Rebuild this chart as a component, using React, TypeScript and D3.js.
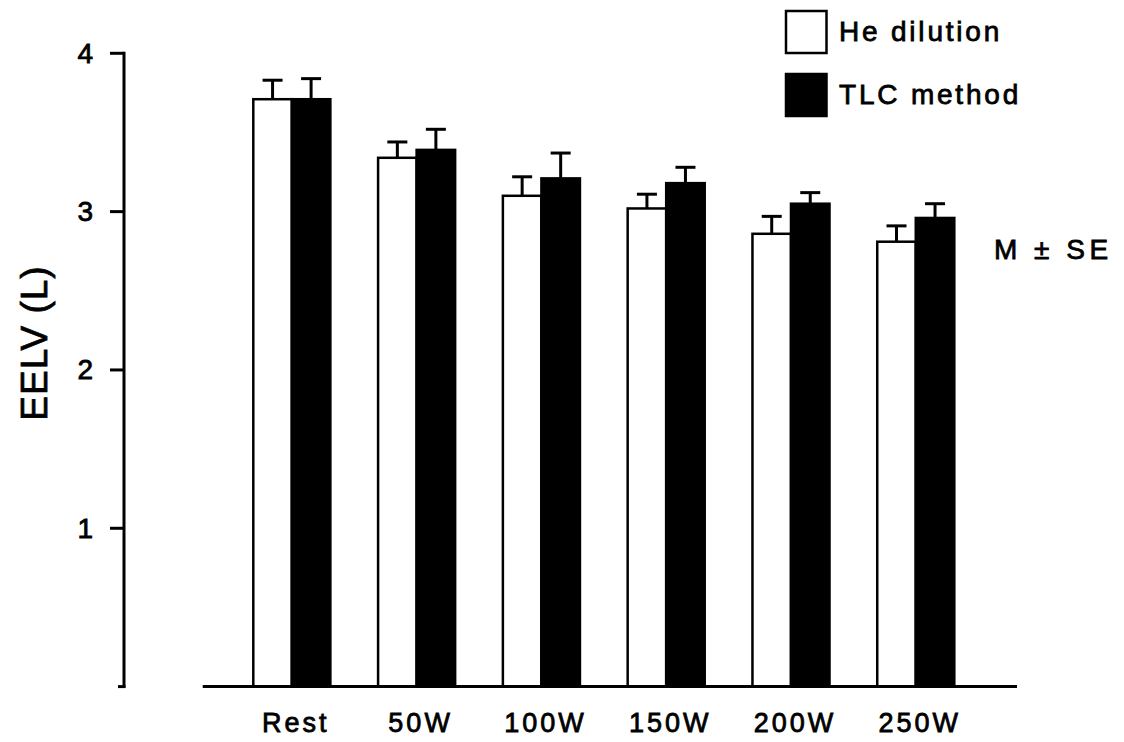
import React from "react";
import * as d3 from "d3";

// End-expiratory lung volume by exercise level, two measurement methods
const categories = ["Rest", "50W", "100W", "150W", "200W", "250W"];
const series = ["He dilution", "TLC method"];
const heDilution = [3.71, 3.34, 3.1, 3.02, 2.86, 2.81];
const heDilutionSE = [0.12, 0.1, 0.12, 0.09, 0.11, 0.1];
const tlcMethod = [3.71, 3.39, 3.21, 3.18, 3.05, 2.96];
const tlcMethodSE = [0.13, 0.13, 0.16, 0.1, 0.07, 0.09];
const yTicks = [1, 2, 3, 4];

const W = 1124;
const H = 742;
const FONT = "'Liberation Sans', Arial, Helvetica, sans-serif";

// slightly heavier glyphs for the printed look
const ink = { fill: "#000", stroke: "#000", strokeWidth: 0.8 };

export default function App() {
  const y = d3.scaleLinear().domain([0, 4]).range([686.6, 53.3]);
  const x = d3
    .scaleBand<string>()
    .domain(categories)
    .range([253.3, 954.3])
    .paddingInner(0.3825)
    .paddingOuter(0);
  const xs = d3.scaleBand<string>().domain(series).range([0, x.bandwidth()]).padding(0);

  const values = [heDilution, tlcMethod];
  const errors = [heDilutionSE, tlcMethodSE];
  const fills = ["#fff", "#000"];

  const axisX = 124;
  const baseY = y(0);

  return (
    <svg
      width={W}
      height={H}
      viewBox={`0 0 ${W} ${H}`}
      style={{ position: "absolute", left: 0, top: 0, background: "#fff", display: "block" }}
      fontFamily={FONT}
    >
      <rect x={0} y={0} width={W} height={H} fill="#fff" />

      {/* y axis */}
      <line x1={axisX} x2={axisX} y1={y(4) - 1.5} y2={baseY + 1} stroke="#000" strokeWidth={3} />
      {yTicks.map((t) => (
        <g key={t}>
          <line x1={axisX - 14} x2={axisX} y1={y(t)} y2={y(t)} stroke="#000" strokeWidth={3} />
          <text
            x={93}
            y={y(t)}
            dominantBaseline="central"
            textAnchor="end"
            fontSize={28}
            {...ink}
          >
            {t}
          </text>
        </g>
      ))}
      <line x1={axisX - 6} x2={axisX + 1.5} y1={baseY} y2={baseY} stroke="#000" strokeWidth={3} />

      {/* y axis title */}
      <text
        transform={`translate(47, 343) rotate(-90)`}
        textAnchor="middle"
        fontSize={37}
        letterSpacing={1}
        {...ink}
      >
        EELV (L)
      </text>

      {/* bars */}
      {categories.map((c, i) => (
        <g key={c} transform={`translate(${x(c)},0)`}>
          {series.map((s, j) => {
            const v = values[j][i];
            const e = errors[j][i];
            const bx = xs(s)!;
            const bw = xs.bandwidth();
            const cx = bx + bw / 2;
            return (
              <g key={s}>
                <line x1={cx} x2={cx} y1={y(v)} y2={y(v + e)} stroke="#000" strokeWidth={3} />
                <line x1={cx - 10} x2={cx + 10} y1={y(v + e)} y2={y(v + e)} stroke="#000" strokeWidth={3} />
                <rect
                  x={bx}
                  y={y(v)}
                  width={bw}
                  height={baseY - y(v)}
                  fill={fills[j]}
                  stroke="#000"
                  strokeWidth={2.5}
                />
              </g>
            );
          })}
        </g>
      ))}

      {/* x axis */}
      <line x1={202.7} x2={1017} y1={baseY} y2={baseY} stroke="#000" strokeWidth={3} />
      {categories.map((c) => (
        <text
          key={c}
          x={x(c)! + x.bandwidth() / 2 + 4}
          y={731.7}
          textAnchor="middle"
          fontSize={27}
          letterSpacing={3}
          {...ink}
        >
          {c}
        </text>
      ))}

      {/* legend */}
      {series.map((s, j) => (
        <g key={s} transform={`translate(786, ${11 + j * 63})`}>
          <rect x={0} y={0} width={40.5} height={42} fill={fills[j]} stroke="#000" strokeWidth={2.5} />
          <text x={53} y={30} fontSize={28} letterSpacing={2.8} {...ink}>
            {s}
          </text>
        </g>
      ))}

      <text x={994} y={259} fontSize={28} letterSpacing={4.5} {...ink}>
        M ± SE
      </text>
    </svg>
  );
}
